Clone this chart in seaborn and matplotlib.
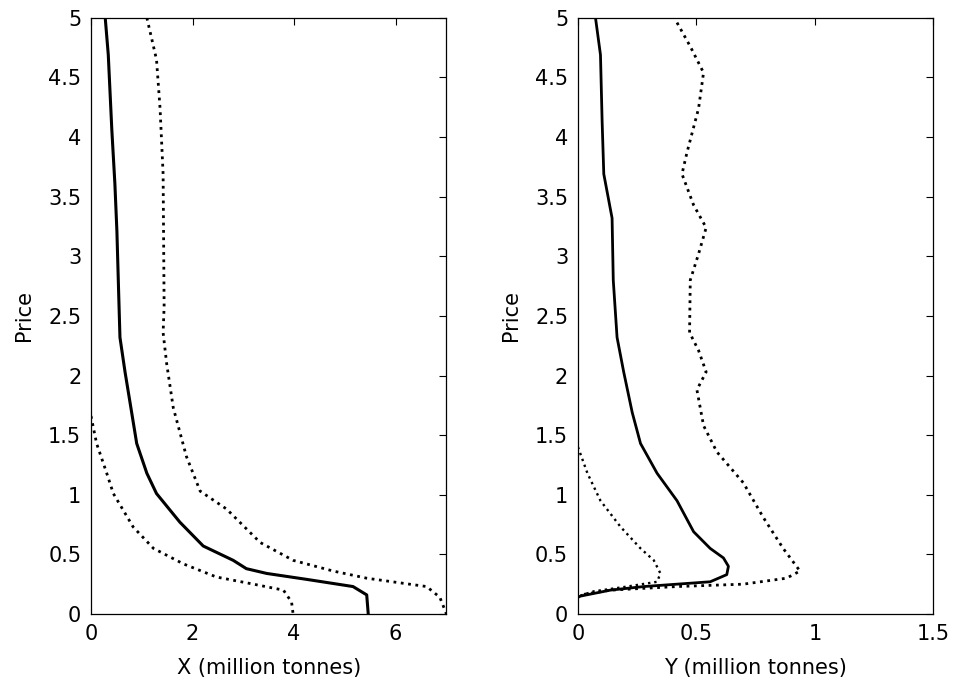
import matplotlib
matplotlib.use("Agg")
import matplotlib.pyplot as plt
import matplotlib.ticker as mticker
import seaborn as sns
import pandas as pd

# ---- Left panel: X (million tonnes) vs Price ----
x_mid = [0.28, 0.34, 0.41, 0.47, 0.51, 0.54, 0.57, 0.67, 0.77, 0.90, 1.10, 1.29,
         1.75, 2.21, 2.80, 3.06, 3.46, 4.25, 5.16, 5.43, 5.46]
p_x_mid = [5.0, 4.69, 4.06, 3.61, 3.21, 2.76, 2.32, 2.03, 1.77, 1.43, 1.18, 1.01,
           0.77, 0.57, 0.45, 0.38, 0.34, 0.29, 0.23, 0.16, 0.0]

x_hi = [1.10, 1.29, 1.36, 1.42, 1.44, 1.42, 1.49, 1.62, 1.88, 2.15, 2.67, 3.33,
        3.98, 4.77, 5.43, 6.61, 6.87, 7.0]
p_x_hi = [5.0, 4.65, 4.24, 3.69, 2.58, 2.36, 2.10, 1.73, 1.32, 1.03, 0.88, 0.60,
          0.45, 0.36, 0.30, 0.23, 0.14, 0.0]

x_lo = [0.0, 0.11, 0.31, 0.44, 0.83, 1.23, 1.82, 2.47, 3.20, 3.79, 3.95, 3.98]
p_x_lo = [1.66, 1.43, 1.18, 1.01, 0.73, 0.55, 0.42, 0.31, 0.25, 0.20, 0.10, 0.0]

# ---- Right panel: Y (million tonnes) vs Price ----
y_mid = [0.074, 0.095, 0.102, 0.109, 0.144, 0.149, 0.165, 0.193, 0.229, 0.264,
         0.334, 0.418, 0.488, 0.558, 0.614, 0.635, 0.628, 0.558, 0.278, 0.137,
         0.011, 0.0]
p_y_mid = [5.0, 4.69, 4.13, 3.69, 3.32, 2.80, 2.32, 2.03, 1.69, 1.43,
           1.18, 0.95, 0.69, 0.55, 0.47, 0.40, 0.33, 0.27, 0.23, 0.20,
           0.15, 0.14]

y_hi = [0.418, 0.474, 0.53, 0.509, 0.46, 0.439, 0.488, 0.541, 0.509, 0.474,
        0.471, 0.509, 0.541, 0.502, 0.53, 0.586, 0.698, 0.782, 0.866, 0.937,
        0.88, 0.698, 0.418, 0.137, 0.01]
p_y_hi = [4.96, 4.76, 4.54, 4.24, 3.87, 3.69, 3.43, 3.24, 3.02, 2.80,
          2.36, 2.21, 2.03, 1.88, 1.58, 1.36, 1.10, 0.81, 0.55, 0.36,
          0.30, 0.25, 0.23, 0.20, 0.16]

y_lo = [0.0, 0.04, 0.095, 0.18, 0.264, 0.32, 0.348, 0.334, 0.208, 0.067, 0.004]
p_y_lo = [1.40, 1.18, 0.95, 0.73, 0.55, 0.45, 0.34, 0.27, 0.23, 0.19, 0.15]

x_ticks_left = [0, 2, 4, 6]
x_ticks_right = [0, 0.5, 1, 1.5]
price_ticks = [0, 0.5, 1, 1.5, 2, 2.5, 3, 3.5, 4, 4.5, 5]

sns.set_theme(style="white")
plt.rcParams["font.family"] = ["DejaVu Sans"]

fig = plt.figure(figsize=(9.58, 6.86), dpi=100)
axL = fig.add_axes([0.095, 0.105, 0.371, 0.869])
axR = fig.add_axes([0.6033, 0.105, 0.371, 0.869])

def draw(ax, xs, ys, style, lw):
    df = pd.DataFrame({"q": xs, "p": ys})
    sns.lineplot(data=df, x="q", y="p", sort=False, estimator=None,
                 color="black", linestyle=style, linewidth=lw, ax=ax)

draw(axL, x_mid, p_x_mid, "-", 2.2)
draw(axL, x_hi, p_x_hi, ":", 2.0)
draw(axL, x_lo, p_x_lo, ":", 2.0)

draw(axR, y_mid, p_y_mid, "-", 2.0)
draw(axR, y_hi, p_y_hi, ":", 2.0)
draw(axR, y_lo, p_y_lo, ":", 1.7)

for ax, xl, xt, lab in [(axL, (0, 7), x_ticks_left, "X (million tonnes)"),
                        (axR, (0, 1.5), x_ticks_right, "Y (million tonnes)")]:
    ax.set_xlim(*xl)
    ax.set_ylim(0, 5)
    ax.set_xticks(xt)
    ax.set_yticks(price_ticks)
    ax.xaxis.set_major_formatter(mticker.FormatStrFormatter("%g"))
    ax.yaxis.set_major_formatter(mticker.FormatStrFormatter("%g"))
    ax.set_xlabel(lab, fontsize=15, labelpad=10, color="black")
    ax.set_ylabel("Price", fontsize=15, labelpad=10, color="black")
    ax.tick_params(direction="in", top=True, right=True, length=5, width=0.8,
                   labelsize=15, colors="black", pad=7)
    for s in ax.spines.values():
        s.set_visible(True)
        s.set_color("black")
        s.set_linewidth(0.9)
    ax.grid(False)

fig.savefig("out.png", dpi=100, facecolor="white")
